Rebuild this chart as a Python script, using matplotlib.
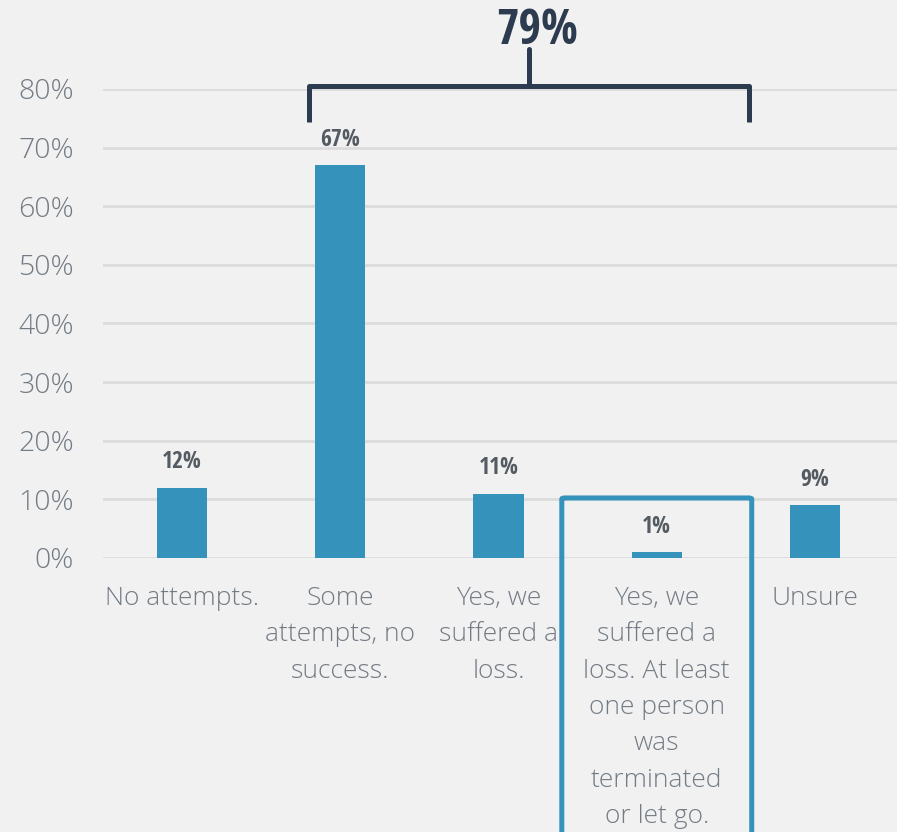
import matplotlib
matplotlib.use("Agg")
import matplotlib.pyplot as plt
from matplotlib import font_manager as fm
from matplotlib.patches import FancyBboxPatch

# ---- data ----
categories = [
    "No attempts.",
    "Some\nattempts, no\nsuccess.",
    "Yes, we\nsuffered a\nloss.",
    "Yes, we\nsuffered a\nloss. At least\none person\nwas\nterminated\nor let go.",
    "Unsure",
]
values = [12, 67, 11, 1, 9]
y_ticks = [0, 10, 20, 30, 40, 50, 60, 70, 80]
y_tick_labels = [f"{t}%" for t in y_ticks]
bracket_group = [1, 2, 3]          # bars summed under the bracket
highlight_index = 3                # category outlined with a box

# ---- fonts ----
installed = {f.name for f in fm.fontManager.ttflist}


def pick(*cands):
    for c in cands:
        if c in installed:
            return c
    return "DejaVu Sans"


cond_family = pick("Liberation Sans Narrow", "Open Sans Condensed", "Roboto Condensed", "DejaVu Sans")
light_family = pick("Open Sans", "Lato", "Noto Sans", "DejaVu Sans")
has_light = any(f.name == light_family and f.weight in (300, "light") for f in fm.fontManager.ttflist)
light_weight = "light" if has_light else "normal"

# ---- colours ----
bg = "#f1f1f1"
bar_color = "#3593bb"
grid_color = "#dcdcdc"
tick_color = "#737b84"
label_color = "#555b62"
navy = "#2c3b4f"

fig = plt.figure(figsize=(8.97, 8.32), dpi=100, facecolor=bg)
ax = fig.add_axes([103 / 897, (832 - 558) / 832, 794 / 897, (558 - 89) / 832])
ax.set_facecolor(bg)

x = list(range(len(values)))
ax.bar(x, values, width=0.316, color=bar_color, zorder=3)

ax.set_xlim(-0.499, 4.518)
ax.set_ylim(0, 80)
ax.set_yticks(y_ticks)
ax.set_yticklabels(y_tick_labels)
ax.set_xticks(x)
ax.set_xticklabels(categories, linespacing=1.6)

for s in ax.spines.values():
    s.set_visible(False)
ax.grid(axis="y", color=grid_color, linewidth=2, zorder=0)
ax.tick_params(axis="both", length=0)
ax.tick_params(axis="y", pad=21, labelsize=20.5, labelcolor=tick_color)
ax.tick_params(axis="x", pad=20, labelsize=19, labelcolor=tick_color)
for lbl in ax.get_yticklabels() + ax.get_xticklabels():
    lbl.set_fontfamily(light_family)
    lbl.set_fontweight(light_weight)
for lbl in ax.get_xticklabels():
    lbl.set_verticalalignment("top")

# value labels above bars
for xi, v in zip(x, values):
    ax.annotate(f"{v}%", (xi, v), xytext=(0, 9.5), textcoords="offset points",
                ha="center", va="bottom", fontsize=17, fontweight="bold",
                family=cond_family, fontstretch="condensed", color=label_color,
                zorder=4)

# bracket over the grouped bars with their total
left = bracket_group[0] - 0.2
right = bracket_group[-1] + 0.583
mid = 2.19
top_y, leg_y, stem_y = 80.5, 74.4, 86.9
ax.plot([left, left, right, right], [leg_y, top_y, top_y, leg_y], color=navy,
        lw=3.6, solid_joinstyle="round", solid_capstyle="butt", clip_on=False, zorder=5)
ax.plot([mid, mid], [top_y, stem_y], color=navy, lw=3.6,
        solid_capstyle="round", clip_on=False, zorder=5)
total = sum(values[i] for i in bracket_group)
ax.text(2.246, 87.7, f"{total}%", ha="center", va="baseline", fontsize=35,
        fontweight="bold", family=cond_family, fontstretch="condensed",
        color=navy, clip_on=False)

# outline around the highlighted category
box = FancyBboxPatch((highlight_index - 0.6, -60), 1.2, 60 + 10.24,
                     boxstyle="round,pad=0,rounding_size=0.02",
                     fill=False, edgecolor=bar_color, lw=3.6,
                     clip_on=False, zorder=6, mutation_aspect=10)
ax.add_patch(box)

fig.savefig("out.png", dpi=100, facecolor=bg)
